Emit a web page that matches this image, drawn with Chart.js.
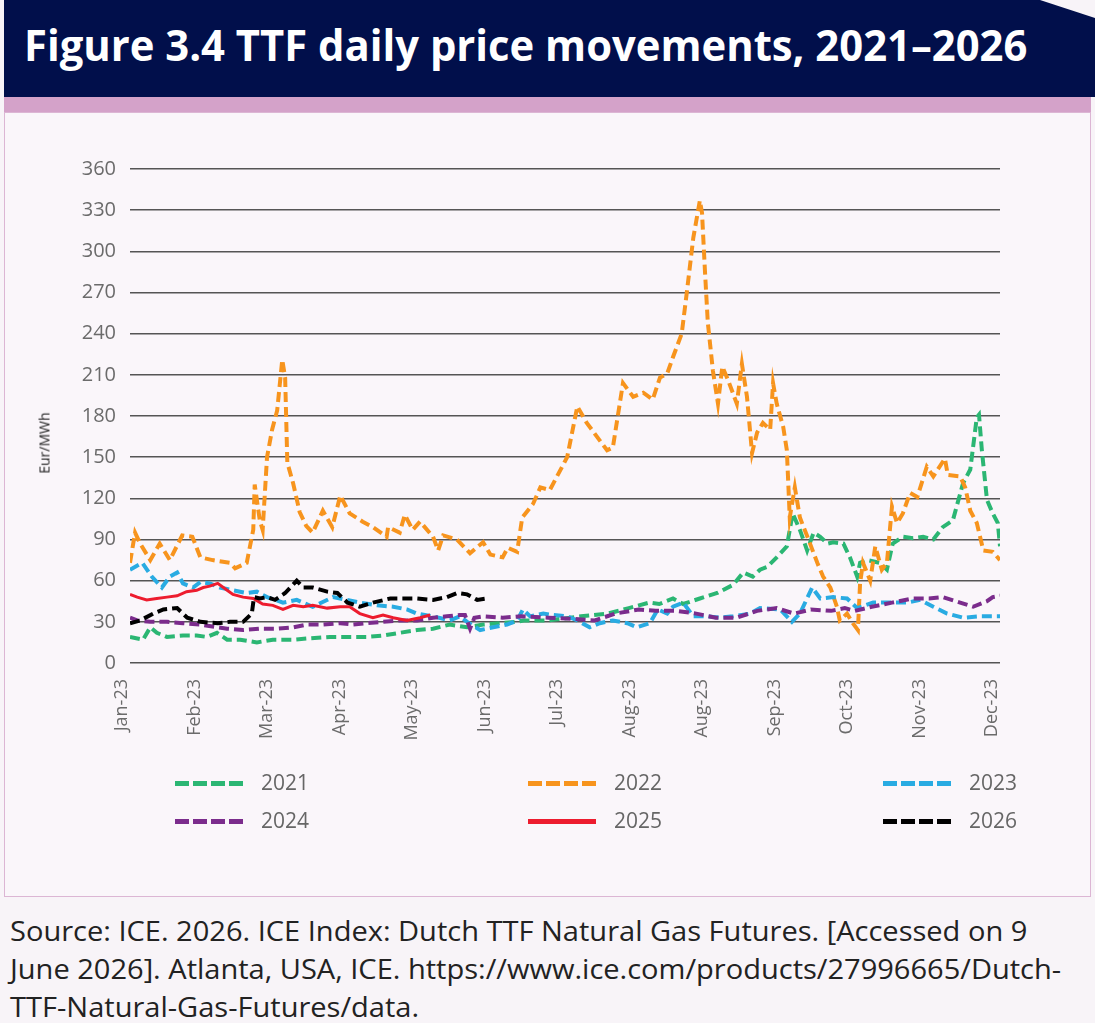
<!DOCTYPE html>
<html lang="en">
<head>
  <meta charset="UTF-8">
  <title>Figure 3.4 TTF daily price movements, 2021–2026</title>
  <script src="https://cdn.jsdelivr.net/npm/chart.js"></script>
  <style>
    body {
      margin: 0;
      width: 1095px;
      height: 1023px;
      background: #f8f4f8;
      font-family: "Open Sans", sans-serif;
      position: relative;
      overflow: hidden;
    }
    .banner {
      position: absolute;
      left: 4px; top: 0;
      width: 1091px; height: 97px;
      background: #010f4b;
      clip-path: polygon(0 0, 1036px 0, 1091px 18px, 1091px 97px, 0 97px);
    }
    .banner h1 {
      position: absolute;
      left: 20px; top: 15px;
      margin: 0;
      color: #fff;
      font-size: 43px;
      font-weight: 700;
      white-space: nowrap;
      transform-origin: left center;
    }
    .band {
      position: absolute;
      left: 4px; top: 97px;
      width: 1087px; height: 15px;
      background: #d4a2c9;
    }
    .panel {
      position: absolute;
      left: 4px; top: 112px;
      width: 1085px; height: 783px;
      background: #faf6fa;
      border: 1px solid #dcb6d4;
    }
    #chart {
      position: absolute;
      left: 4px; top: 112px;
    }
    .ytitle {
      position: absolute;
      left: 44px; top: 443px;
      font-size: 14px;
      color: #222;
      transform: translate(-50%, -50%) rotate(-90deg);
      white-space: nowrap;
    }
    .leg-line {
      position: absolute;
      width: 68px; height: 5px;
    }
    .leg-text {
      position: absolute;
      font-size: 21px;
      color: #666;
      line-height: 24px;
    }
    .source {
      position: absolute;
      left: 10px; top: 911px;
      font-size: 28px;
      line-height: 38px;
      color: #222;
      white-space: nowrap;
      transform-origin: left top;
    }
  </style>
</head>
<body>
  <div class="banner"><h1 id="title">Figure 3.4 TTF daily price movements, 2021–2026</h1></div>
  <div class="band"></div>
  <div class="panel"></div>
  <canvas id="chart" width="1087" height="785"></canvas>
  <div class="ytitle">Eur/MWh</div>
  <div id="legend"></div>
  <div class="source" id="source">Source: ICE. 2026. ICE Index: Dutch TTF Natural Gas Futures. [Accessed on 9<br>June 2026]. Atlanta, USA, ICE. https://www.ice.com/products/27996665/Dutch-<br>TTF-Natural-Gas-Futures/data.</div>

  <script>
    // x positions are in months from the first tick (Jan-23 = 0)
    const monthLabels = ['Jan-23', 'Feb-23', 'Mar-23', 'Apr-23', 'May-23', 'Jun-23', 'Jul-23',
                         'Aug-23', 'Aug-23', 'Sep-23', 'Oct-23', 'Nov-23', 'Dec-23'];
    const yearNames = ['2021', '2022', '2023', '2024', '2025', '2026'];
    const yearColors = ['#2bb673', '#f7941d', '#29abe2', '#7b2c8c', '#ed1c2e', '#000000'];

    const x2021 = [0, 0.18, 0.28, 0.37, 0.51, 0.73, 0.92, 1.06, 1.2, 1.34, 1.52, 1.75, 1.97, 2.25, 2.48, 2.76,
                   3.03, 3.27, 3.49, 3.72, 3.96, 4.18, 4.41, 4.65, 4.87, 5.1, 5.34, 5.43, 5.77, 6.22, 6.59, 6.88,
                   7.16, 7.3, 7.49, 7.63, 7.86, 8.1, 8.32, 8.46, 8.59, 8.69, 8.79, 8.92, 9.06, 9.14, 9.24, 9.34,
                   9.43, 9.52, 9.62, 9.7, 9.84, 9.93, 10.03, 10.07, 10.17, 10.34, 10.44, 10.52, 10.66, 10.8,
                   10.94, 11.08, 11.21, 11.35, 11.49, 11.59, 11.68, 11.71, 11.75, 11.82, 11.9, 11.97, 12];
    const v2021 = [19, 17, 26, 22, 19, 20, 20, 19, 22, 17, 17, 15, 17, 17, 18, 19,
                   19, 19, 20, 22, 24, 25, 28, 26, 28, 29, 30, 31, 31, 34, 36, 40,
                   44, 43, 47, 43, 47, 51, 57, 66, 63, 68, 70, 77, 85, 109, 97, 82,
                   95, 92, 87, 88, 87, 77, 63, 73, 75, 73, 68, 87, 92, 91,
                   92, 90, 99, 104, 131, 141, 179, 181, 155, 119, 109, 102, 85];

    const x2022 = [0, 0.07, 0.14, 0.28, 0.41, 0.55, 0.72, 0.86, 0.97, 1.14, 1.38, 1.45, 1.61, 1.7, 1.72, 1.79,
                   1.83, 1.89, 1.96, 2.03, 2.1, 2.14, 2.17, 2.25, 2.34, 2.43, 2.52, 2.66, 2.79, 2.9, 3.03, 3.21,
                   3.35, 3.54, 3.56, 3.72, 3.79, 3.9, 4.0, 4.18, 4.25, 4.32, 4.51, 4.69, 4.87, 4.97, 5.14, 5.21,
                   5.34, 5.41, 5.56, 5.66, 5.79, 5.89, 6.03, 6.17, 6.3, 6.58, 6.66, 6.8, 6.94, 7.08, 7.21, 7.31,
                   7.41, 7.49, 7.61, 7.68, 7.77, 7.86, 7.89, 7.93, 7.97, 8.04, 8.11, 8.17, 8.25, 8.37, 8.44, 8.51,
                   8.58, 8.65, 8.73, 8.83, 8.87, 8.92, 9.01, 9.06, 9.1, 9.17, 9.24, 9.38, 9.48, 9.56, 9.66, 9.75,
                   9.79, 9.89, 9.97, 10.04, 10.07, 10.11, 10.21, 10.28, 10.37, 10.44, 10.51, 10.58, 10.66, 10.76,
                   10.86, 10.99, 11.08, 11.24, 11.28, 11.45, 11.52, 11.59, 11.68, 11.77, 11.9, 12];
    const v2022 = [73, 95, 87, 75, 87, 75, 93, 92, 77, 75, 73, 69, 73, 97, 130, 104,
                   97, 150, 170, 184, 221, 208, 146, 131, 110, 100, 95, 111, 99, 122, 109, 103,
                   99, 92, 99, 95, 108, 97, 103, 92, 82, 93, 90, 80, 88, 79, 77, 84,
                   81, 106, 116, 128, 126, 136, 150, 187, 175, 155, 157, 204, 194, 197, 192, 208,
                   211, 223, 240, 270, 310, 337, 328, 286, 248, 213, 189, 216, 206, 189, 218, 194,
                   153, 168, 175, 170, 204, 189, 172, 155, 106, 128, 106, 87, 73, 63, 55, 41,
                   31, 36, 29, 24, 58, 73, 60, 85, 68, 73, 114, 102, 109, 124,
                   121, 143, 136, 149, 137, 136, 128, 111, 102, 82, 81, 75];

    const x2023 = [0, 0.17, 0.3, 0.44, 0.55, 0.65, 0.73, 0.87, 0.97, 1.1, 1.24, 1.42, 1.61, 1.75, 1.89, 2.11,
                   2.3, 2.52, 2.8, 2.99, 3.17, 3.41, 3.63, 3.82, 3.96, 4.18, 4.41, 4.55, 4.65, 4.83, 5.01, 5.2,
                   5.34, 5.42, 5.52, 5.7, 5.83, 6.03, 6.17, 6.34, 6.48, 6.66, 6.86, 6.99, 7.17, 7.28, 7.41, 7.49,
                   7.63, 7.77, 7.96, 8.14, 8.32, 8.55, 8.69, 8.97, 9.13, 9.24, 9.41, 9.52, 9.7, 9.89, 10.03, 10.25,
                   10.44, 10.72, 10.9, 11.08, 11.27, 11.49, 11.72, 11.9, 12];
    const v2023 = [68, 73, 63, 55, 63, 66, 58, 55, 59, 58, 55, 53, 51, 52, 48, 44,
                   46, 41, 48, 46, 44, 42, 41, 39, 36, 34, 31, 34, 30, 24, 26, 28,
                   31, 39, 34, 36, 35, 34, 31, 26, 29, 31, 29, 26, 29, 39, 36, 41,
                   44, 34, 34, 33, 34, 36, 40, 39, 30, 36, 55, 47, 48, 47, 40, 44,
                   44, 44, 46, 41, 36, 33, 34, 34, 34];

    const x2024 = [0, 0.1, 0.28, 0.51, 0.73, 0.97, 1.21, 1.34, 1.56, 1.79, 2.03, 2.25, 2.44, 2.66, 2.9, 3.08,
                   3.27, 3.49, 3.72, 3.96, 4.18, 4.37, 4.55, 4.62, 4.69, 4.75, 4.87, 5.14, 5.39, 5.77, 6.14, 6.41,
                   6.69, 7.02, 7.25, 7.53, 7.81, 8.08, 8.37, 8.65, 8.92, 9.16, 9.39, 9.67, 9.86, 10.0, 10.23, 10.51,
                   10.79, 11.02, 11.21, 11.45, 11.63, 11.82, 11.9, 12];
    const v2024 = [33, 31, 30, 30, 29, 28, 26, 25, 24, 25, 25, 26, 28, 28, 29, 28,
                   29, 30, 31, 31, 33, 34, 35, 35, 25, 33, 34, 33, 34, 33, 32, 31,
                   36, 39, 38, 38, 36, 33, 33, 38, 40, 36, 39, 38, 40, 38, 41, 44,
                   47, 47, 48, 44, 41, 45, 48, 49];

    const x2025 = [0, 0.1, 0.23, 0.37, 0.51, 0.65, 0.78, 0.92, 1.01, 1.1, 1.21, 1.34, 1.42, 1.56, 1.7, 1.83,
                   1.97, 2.11, 2.25, 2.39, 2.52, 2.72, 2.9, 3.03, 3.17, 3.35, 3.49, 3.63, 3.82, 4.0, 4.14];
    const v2025 = [50, 48, 46, 47, 48, 49, 52, 53, 55, 56, 58, 53, 50, 48, 47, 43,
                   42, 39, 42, 41, 42, 40, 41, 41, 36, 33, 35, 33, 31, 33, 35];

    const x2026 = [0, 0.14, 0.32, 0.46, 0.65, 0.73, 0.79, 0.97, 1.21, 1.38, 1.56, 1.68, 1.71, 1.79, 1.89, 2.0,
                   2.14, 2.3, 2.39, 2.52, 2.72, 2.86, 3.0, 3.17, 3.35, 3.59, 3.77, 3.96, 4.18, 4.37, 4.51, 4.65,
                   4.79, 4.92];
    const v2026 = [29, 31, 36, 39, 40, 36, 33, 30, 29, 30, 30, 36, 48, 47, 48, 46,
                   51, 60, 55, 55, 52, 51, 44, 41, 44, 47, 47, 47, 46, 48, 51, 50,
                   46, 47];

    const seriesX = [x2021, x2022, x2023, x2024, x2025, x2026];
    const seriesV = [v2021, v2022, v2023, v2024, v2025, v2026];

    const datasets = yearNames.map((name, s) => ({
      label: name,
      data: seriesX[s].map((x, i) => ({ x: x, y: seriesV[s][i] })),
      borderColor: yearColors[s],
      borderWidth: name === '2025' ? 3 : 4,
      borderDash: name === '2025' ? [] : [10, 5],
      pointRadius: 0,
      tension: 0,
      fill: false,
      order: yearNames.length - s
    }));

    new Chart(document.getElementById('chart'), {
      type: 'line',
      data: { datasets: datasets },
      options: {
        responsive: false,
        animation: false,
        devicePixelRatio: 1,
        layout: { padding: { top: 57, right: 91, bottom: 0, left: 0 } },
        plugins: { legend: { display: false }, tooltip: { enabled: false } },
        scales: {
          x: {
            type: 'linear',
            min: 0,
            max: 12,
            afterBuildTicks: (scale) => {
              scale.ticks = monthLabels.map((l, k) => ({ value: k }));
            },
            afterFit: (scale) => { scale.height = 234; },
            grid: { display: false },
            border: { display: false },
            ticks: {
              autoSkip: false,
              minRotation: 90,
              maxRotation: 90,
              padding: 8,
              labelOffset: -8,
              color: '#6b6b6b',
              font: { family: 'Open Sans', size: 18 },
              callback: (value, index) => monthLabels[index]
            }
          },
          y: {
            min: 0,
            max: 360,
            afterFit: (scale) => { scale.width = 126; },
            grid: { color: '#555555', lineWidth: 1.5, drawTicks: false },
            border: { display: false },
            ticks: {
              stepSize: 30,
              padding: 14,
              color: '#6b6b6b',
              font: { family: 'Open Sans', size: 20 }
            }
          }
        }
      }
    });

    // legend, laid out in three columns like the original
    const legendCols = [175, 528, 883];
    const legendRows = [783, 821];
    const legend = document.getElementById('legend');
    yearNames.forEach((name, s) => {
      const left = legendCols[s % 3];
      const mid = legendRows[Math.floor(s / 3)];
      const line = document.createElement('div');
      line.className = 'leg-line';
      line.style.left = left + 'px';
      line.style.top = (mid - 2) + 'px';
      line.style.background = name === '2025' ? yearColors[s] :
        `repeating-linear-gradient(to right, ${yearColors[s]} 0 14px, transparent 14px 18px)`;
      legend.appendChild(line);
      const text = document.createElement('div');
      text.className = 'leg-text';
      text.textContent = name;
      text.style.left = (left + 86) + 'px';
      text.style.top = (mid - 13) + 'px';
      legend.appendChild(text);
    });

    // squeeze title and source text to the widths of the original (condensed face)
    const title = document.getElementById('title');
    title.style.transform = `scaleX(${1003 / title.offsetWidth})`;
    const source = document.getElementById('source');
    const probe = document.createElement('span');
    probe.style.font = getComputedStyle(source).font;
    probe.style.whiteSpace = 'nowrap';
    probe.textContent = 'Source: ICE. 2026. ICE Index: Dutch TTF Natural Gas Futures. [Accessed on 9';
    document.body.appendChild(probe);
    source.style.transform = `scaleX(${1017 / probe.offsetWidth})`;
    probe.remove();
  </script>
</body>
</html>
